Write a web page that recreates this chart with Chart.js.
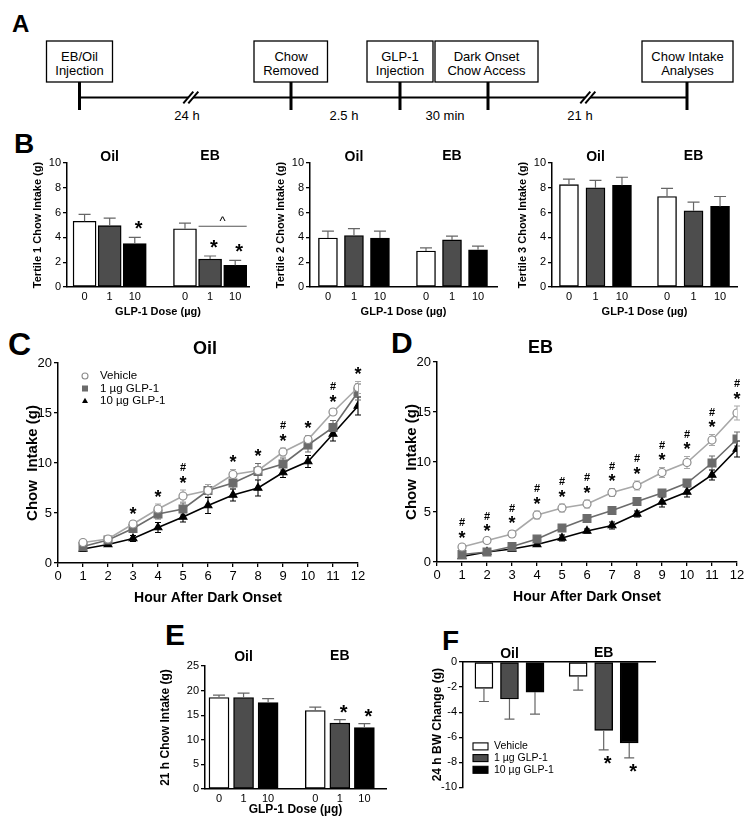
<!DOCTYPE html>
<html lang="en">
<head>
<meta charset="UTF-8" />
<title>GLP-1 and chow intake</title>
<script src="https://cdn.jsdelivr.net/npm/chart.js"></script>
<style>
  body { margin: 0; background: #fff; }
  #page { position: relative; width: 754px; height: 830px; overflow: hidden; }
  #page svg, #page canvas { position: absolute; }
</style>
</head>
<body>
<div id="page">
  <svg width="754" height="830" style="left:0;top:0" font-family="Liberation Sans, Arial, sans-serif">
    <g font-weight="bold" fill="#000">
      <text x="12" y="32" font-size="24">A</text>
      <text x="14" y="153" font-size="28">B</text>
      <text x="8" y="355" font-size="32">C</text>
      <text x="391" y="353" font-size="30">D</text>
      <text x="165" y="645" font-size="30">E</text>
      <text x="442" y="650" font-size="28">F</text>
    </g>
    <!-- timeline -->
    <line x1="79.5" y1="97.5" x2="687" y2="97.5" stroke="#000" stroke-width="2" />
    <g stroke="#000" stroke-width="3">
      <line x1="79.5" y1="82" x2="79.5" y2="110" />
      <line x1="291" y1="82" x2="291" y2="110" />
      <line x1="400" y1="82" x2="400" y2="110" />
      <line x1="488" y1="82" x2="488" y2="110" />
      <line x1="687" y1="82" x2="687" y2="110" />
    </g>
    <g stroke="#000" stroke-width="1.3" fill="#fff">
      <rect x="46.5" y="41" width="66" height="41" />
      <rect x="254" y="41" width="73.5" height="41" />
      <rect x="367" y="41" width="66" height="41" />
      <rect x="435" y="41" width="103" height="41" />
      <rect x="642" y="41" width="91" height="41" />
    </g>
    <polygon points="183.3,103.3 193.3,91.7 198.3,91.7 188.3,103.3" fill="#fff" />
    <polygon points="580.3,103.3 590.3,91.7 595.3,91.7 585.3,103.3" fill="#fff" />
    <g stroke="#000" stroke-width="2">
      <line x1="183.3" y1="103.3" x2="193.3" y2="91.7" />
      <line x1="188.3" y1="103.3" x2="198.3" y2="91.7" />
      <line x1="580.3" y1="103.3" x2="590.3" y2="91.7" />
      <line x1="585.3" y1="103.3" x2="595.3" y2="91.7" />
    </g>
    <g font-size="13" text-anchor="middle" fill="#000">
      <text x="79.5" y="61">EB/Oil</text><text x="79.5" y="75">Injection</text>
      <text x="291" y="61">Chow</text><text x="291" y="75">Removed</text>
      <text x="400" y="61">GLP-1</text><text x="400" y="75">Injection</text>
      <text x="486.5" y="61">Dark Onset</text><text x="486.5" y="75">Chow Access</text>
      <text x="687.5" y="61">Chow Intake</text><text x="687.5" y="75">Analyses</text>
      <text x="187" y="120">24 h</text>
      <text x="344" y="120">2.5 h</text>
      <text x="445" y="120">30 min</text>
      <text x="580" y="120">21 h</text>
    </g>
  </svg>

  <canvas id="tertile1" width="226" height="185" style="left:27px;top:138px"></canvas>
  <canvas id="tertile2" width="231" height="185" style="left:270px;top:138px"></canvas>
  <canvas id="tertile3" width="229" height="185" style="left:512px;top:138px"></canvas>
  <canvas id="oilHourly" width="348" height="278" style="left:20px;top:333px"></canvas>
  <canvas id="ebHourly" width="348" height="278" style="left:399px;top:332px"></canvas>
  <canvas id="intake21" width="236" height="177" style="left:154px;top:644px"></canvas>
  <canvas id="bwChange" width="233" height="158" style="left:426px;top:638px"></canvas>
</div>

<script>
  // ---- data ----
  var doseLabels = ["0", "1", "10"];
  var groupNames = ["Oil", "EB"];
  var seriesNames = ["Vehicle", "1 µg GLP-1", "10 µg GLP-1"];

  // bars: Oil 0, 1, 10 then EB 0, 1, 10
  var tertile1Mean = [5.3, 4.95, 3.5, 4.7, 2.25, 1.75];
  var tertile1Sem = [0.55, 0.6, 0.5, 0.45, 0.25, 0.4];
  var tertile1Sig = ["", "", "*", "", "*", "*"];
  var tertile1Bracket = { from: 4, to: 5, value: 4.9, text: "^" };

  var tertile2Mean = [3.95, 4.15, 3.95, 2.9, 3.8, 3.0];
  var tertile2Sem = [0.55, 0.55, 0.55, 0.25, 0.3, 0.3];

  var tertile3Mean = [8.25, 8.0, 8.2, 7.3, 6.15, 6.5];
  var tertile3Sem = [0.45, 0.6, 0.65, 0.65, 0.7, 0.8];

  var intake21Mean = [18.6, 18.6, 17.55, 15.95, 13.4, 12.5];
  var intake21Sem = [0.5, 0.9, 0.8, 0.7, 0.7, 0.8];
  var intake21Sig = ["", "", "", "", "*", "*"];

  var bwMean = [-2.1, -2.95, -2.4, -1.15, -5.45, -6.45];
  var bwSem = [1.05, 1.6, 1.75, 1.1, 1.55, 1.2];
  var bwSig = ["", "", "", "", "*", "*"];

  // hourly cumulative intake
  var hours = [1, 2, 3, 4, 5, 6, 7, 8, 9, 10, 11, 12];

  var oilVehicle = [2.05, 2.4, 3.9, 5.4, 6.7, 7.25, 8.85, 9.25, 11.1, 12.35, 15.1, 17.55];
  var oilLow = [1.65, 2.3, 3.45, 4.9, 5.4, 7.25, 8.0, 9.15, 9.9, 11.8, 13.55, 17.1];
  var oilHigh = [1.4, 1.85, 2.45, 3.55, 4.6, 5.75, 6.8, 7.5, 9.05, 10.15, 12.9, 15.7];
  var oilVehicleSem = [0.2, 0.2, 0.3, 0.5, 0.6, 0.6, 0.5, 0.4, 0.4, 0.4, 0.3, 0.6];
  var oilLowSem = [0.2, 0.2, 0.3, 0.5, 0.6, 0.6, 0.6, 0.8, 0.6, 0.7, 0.7, 0.8];
  var oilHighSem = [0.2, 0.2, 0.3, 0.5, 0.5, 0.8, 0.6, 0.8, 0.5, 0.6, 0.7, 0.9];
  var oilSig = ["", "", "*", "*", "#*", "", "*", "*", "#*", "*", "#*", "*"];

  var ebVehicle = [1.5, 2.15, 2.8, 4.7, 5.4, 5.8, 6.95, 7.65, 8.95, 9.95, 12.2, 14.9];
  var ebLow = [0.75, 1.0, 1.55, 2.3, 3.4, 4.35, 5.15, 6.05, 6.9, 7.9, 9.9, 12.3];
  var ebHigh = [0.55, 1.0, 1.3, 1.75, 2.4, 3.1, 3.65, 4.8, 6.0, 7.0, 8.7, 11.3];
  var ebVehicleSem = [0.2, 0.2, 0.35, 0.4, 0.4, 0.4, 0.4, 0.45, 0.5, 0.6, 0.55, 0.7];
  var ebLowSem = [0.15, 0.15, 0.2, 0.2, 0.3, 0.3, 0.3, 0.3, 0.3, 0.3, 0.7, 0.7];
  var ebHighSem = [0.1, 0.1, 0.15, 0.2, 0.3, 0.2, 0.35, 0.3, 0.5, 0.5, 0.5, 0.8];
  var ebSig = ["#*", "#*", "#*", "#*", "#*", "#*", "#*", "#*", "#*", "#*", "#*", "#*"];

  // ---- styles ----
  var FONT = '"Liberation Sans", Arial, sans-serif';
  var doseColors = ["#ffffff", "#4d4d4d", "#000000"];
  var lineColors = ["#a8a8a8", "#6b6b6b", "#000000"];
  var pointStyles = ["circle", "rect", "triangle"];
  var pointRadii = [4, 5.5, 4.5];
  var pointFills = ["#ffffff", "#6b6b6b", "#000000"];
  var pointEdges = ["#8c8c8c", "#6b6b6b", "#000000"];

  Chart.defaults.font.family = FONT;
  Chart.defaults.color = "#000";
  Chart.defaults.animation = false;
  Chart.defaults.responsive = false;
  Chart.defaults.plugins.legend.display = false;
  Chart.defaults.plugins.tooltip.enabled = false;

  var tickGrid = { drawOnChartArea: false, color: "#000", lineWidth: 1.3, tickLength: 4 };
  var axisBorder = { color: "#000", width: 1.5 };

  function drawCentered(ctx, text, x, y) {
    var m = ctx.measureText(text);
    ctx.fillText(text, x, y + (m.actualBoundingBoxAscent - m.actualBoundingBoxDescent) / 2);
  }

  function drawMarker(ctx, k, x, y, r) {
    ctx.beginPath();
    if (k == 0) {
      ctx.arc(x, y, r, 0, Math.PI * 2);
      ctx.fillStyle = "#fff";
      ctx.fill();
      ctx.strokeStyle = pointEdges[0];
      ctx.lineWidth = 1.1;
      ctx.stroke();
    } else if (k == 1) {
      ctx.fillStyle = pointFills[1];
      ctx.fillRect(x - r, y - r, 2 * r, 2 * r);
    } else {
      ctx.moveTo(x, y - r * 1.1);
      ctx.lineTo(x + r, y + r * 0.7);
      ctx.lineTo(x - r, y + r * 0.7);
      ctx.closePath();
      ctx.fillStyle = "#000";
      ctx.fill();
    }
  }

  function barDecor(mean, sem, sig, o) {
    return {
      id: "barDecor",
      afterDatasetsDraw: function (chart) {
        var ctx = chart.ctx;
        var y = chart.scales.y;
        var area = chart.chartArea;
        var bars = chart.getDatasetMeta(0).data;
        ctx.save();
        ctx.fillStyle = "#000";

        for (var i = 0; i < bars.length; i++) {
          var dir = mean[i] < 0 ? -1 : 1;
          var end = y.getPixelForValue(mean[i] + dir * sem[i]);
          ctx.strokeStyle = "#666";
          ctx.lineWidth = 1.2;
          ctx.beginPath();
          ctx.moveTo(bars[i].x, bars[i].y);
          ctx.lineTo(bars[i].x, end);
          ctx.moveTo(bars[i].x - o.cap, end);
          ctx.lineTo(bars[i].x + o.cap, end);
          ctx.stroke();
          if (sig && sig[i]) {
            ctx.font = "bold 20px " + FONT;
            drawCentered(ctx, sig[i], bars[i].x, end - dir * o.starGap);
          }
        }

        // Oil / EB headings over the middle bar of each group
        ctx.font = "bold " + o.titleSize + "px " + FONT;
        ctx.textAlign = "center";
        for (var g = 0; g < groupNames.length; g++) {
          drawCentered(ctx, groupNames[g], bars[g * 3 + 1].x, area.top - o.titleGap);
        }

        if (o.bracket) {
          var b = o.bracket;
          var by = y.getPixelForValue(b.value);
          ctx.strokeStyle = "#555";
          ctx.lineWidth = 1.1;
          ctx.beginPath();
          ctx.moveTo(bars[b.from].x - o.barW / 2, by);
          ctx.lineTo(bars[b.to].x + o.barW / 2, by);
          ctx.stroke();
          ctx.font = "13px " + FONT;
          drawCentered(ctx, b.text, (bars[b.from].x + bars[b.to].x) / 2, by - 8);
        }

        if (o.legend) {
          ctx.font = "10.5px " + FONT;
          ctx.textAlign = "left";
          ctx.textBaseline = "middle";
          for (var k = 0; k < seriesNames.length; k++) {
            var ly = area.bottom - 41 + k * 11.7;
            ctx.fillStyle = doseColors[k];
            ctx.fillRect(area.left + 10, ly - 3.5, 15, 7);
            ctx.strokeStyle = "#000";
            ctx.lineWidth = 1.1;
            ctx.strokeRect(area.left + 10, ly - 3.5, 15, 7);
            ctx.fillStyle = "#000";
            ctx.fillText(seriesNames[k], area.left + 31, ly);
          }
        }
        ctx.restore();
      }
    };
  }

  function barPanel(id, mean, sem, sig, o) {
    var xs = mean.map(function (v, i) { return i + (i > 2 ? o.gap : 0); });
    new Chart(document.getElementById(id), {
      type: "bar",
      data: {
        datasets: [{
          data: mean.map(function (v, i) { return { x: xs[i], y: v }; }),
          backgroundColor: mean.map(function (v, i) { return doseColors[i % 3]; }),
          borderColor: "#000",
          borderWidth: 1.4,
          borderSkipped: false,
          barThickness: o.barW
        }]
      },
      options: {
        layout: { padding: o.pad },
        scales: {
          x: {
            type: "linear",
            position: o.xTop ? "top" : "bottom",
            offset: false,
            min: o.xMin,
            max: o.xMax,
            afterBuildTicks: function (s) { s.ticks = xs.map(function (v) { return { value: v }; }); },
            ticks: {
              display: !o.xTop, autoSkip: false, maxRotation: 0, padding: 3,
              font: { size: o.tickSize },
              callback: function (v, i) { return doseLabels[i % 3]; }
            },
            grid: { display: false, drawTicks: false },
            border: axisBorder,
            title: { display: !!o.xTitle, text: o.xTitle, font: { size: o.axisTitleSize, weight: "bold" } },
            afterFit: function (s) { s.height = o.xH; }
          },
          y: {
            min: o.yMin,
            max: o.yMax,
            ticks: { stepSize: o.yStep, padding: 2, font: { size: o.tickSize } },
            grid: tickGrid,
            border: axisBorder,
            title: { display: true, text: o.yTitle, font: { size: o.axisTitleSize, weight: "bold" } },
            afterFit: function (s) { s.width = o.yW; }
          }
        }
      },
      plugins: [barDecor(mean, sem, sig, o)]
    });
  }

  function lineDecor(means, sems, sig, o) {
    return {
      id: "lineDecor",
      beforeDatasetsDraw: function (chart) {
        var ctx = chart.ctx;
        var y = chart.scales.y;
        ctx.save();
        ctx.lineWidth = 1.1;
        for (var k = means.length - 1; k >= 0; k--) {
          var pts = chart.getDatasetMeta(k).data;
          ctx.strokeStyle = lineColors[k];
          for (var i = 0; i < pts.length; i++) {
            var hi = y.getPixelForValue(means[k][i] + sems[k][i]);
            var lo = y.getPixelForValue(means[k][i] - sems[k][i]);
            ctx.beginPath();
            ctx.moveTo(pts[i].x, lo);
            ctx.lineTo(pts[i].x, hi);
            ctx.moveTo(pts[i].x - 3, hi);
            ctx.lineTo(pts[i].x + 3, hi);
            ctx.moveTo(pts[i].x - 3, lo);
            ctx.lineTo(pts[i].x + 3, lo);
            ctx.stroke();
          }
        }
        ctx.restore();
      },
      afterDatasetsDraw: function (chart) {
        var ctx = chart.ctx;
        var y = chart.scales.y;
        var area = chart.chartArea;
        var pts = chart.getDatasetMeta(0).data;
        ctx.save();
        ctx.fillStyle = "#000";
        ctx.textAlign = "center";

        for (var i = 0; i < pts.length; i++) {
          if (!sig[i]) continue;
          var top = Infinity;
          for (var k = 0; k < means.length; k++) {
            top = Math.min(top, y.getPixelForValue(means[k][i] + sems[k][i]));
          }
          var starY = top - 11;
          if (sig[i].indexOf("*") >= 0) {
            ctx.font = "bold 18px " + FONT;
            drawCentered(ctx, "*", pts[i].x, starY);
          }
          if (sig[i].indexOf("#") >= 0) {
            ctx.font = "bold 11px " + FONT;
            drawCentered(ctx, "#", pts[i].x, starY - 12);
          }
        }

        ctx.font = "bold 18px " + FONT;
        drawCentered(ctx, o.title, area.left + o.titlePos * (area.right - area.left), area.top - 16);

        if (o.legend) {
          ctx.font = "11.5px " + FONT;
          ctx.textAlign = "left";
          ctx.textBaseline = "middle";
          for (var s = 0; s < seriesNames.length; s++) {
            var ly = area.top + 13 + s * 12.5;
            drawMarker(ctx, s, area.left + 27, ly, 3);
            ctx.fillStyle = "#000";
            ctx.fillText(seriesNames[s], area.left + 42, ly);
          }
        }
        ctx.restore();
      }
    };
  }

  function linePanel(id, means, sems, sig, o) {
    new Chart(document.getElementById(id), {
      type: "line",
      data: {
        datasets: means.map(function (m, k) {
          return {
            label: seriesNames[k],
            data: hours.map(function (h, i) { return { x: h, y: m[i] }; }),
            borderColor: lineColors[k],
            borderWidth: 1.6,
            pointStyle: pointStyles[k],
            pointRadius: pointRadii[k],
            pointBackgroundColor: pointFills[k],
            pointBorderColor: pointEdges[k],
            pointBorderWidth: 1.2
          };
        })
      },
      options: {
        layout: { padding: { top: 30, right: 10, left: 0, bottom: 0 } },
        scales: {
          x: {
            type: "linear",
            min: 0,
            max: 12,
            ticks: { stepSize: 1, autoSkip: false, maxRotation: 0, padding: 2, font: { size: 13 } },
            grid: tickGrid,
            border: axisBorder,
            title: { display: true, text: "Hour After Dark Onset", font: { size: 14, weight: "bold" } },
            afterFit: function (s) { s.height = 48; }
          },
          y: {
            min: 0,
            max: 20,
            ticks: { stepSize: 5, padding: 2, font: { size: 13 } },
            grid: tickGrid,
            border: axisBorder,
            title: { display: true, text: "Chow  Intake (g)", font: { size: 15, weight: "bold" } },
            afterFit: function (s) { s.width = 38; }
          }
        }
      },
      plugins: [lineDecor(means, sems, sig, o)]
    });
  }

  // ---- panel B ----
  var tertileOpts = {
    yMin: 0, yMax: 10, yStep: 2, tickSize: 11, axisTitleSize: 11,
    xTitle: "GLP-1 Dose (µg)", yW: 40, xH: 36,
    pad: { top: 25, right: 4, left: 0, bottom: 0 },
    titleSize: 14, titleGap: 8, cap: 6, starGap: 12
  };

  barPanel("tertile1", tertile1Mean, tertile1Sem, tertile1Sig, Object.assign({}, tertileOpts, {
    yTitle: "Tertile 1 Chow Intake (g)", gap: 1.0, xMin: -0.7, xMax: 6.55, barW: 23,
    bracket: tertile1Bracket
  }));
  barPanel("tertile2", tertile2Mean, tertile2Sem, null, Object.assign({}, tertileOpts, {
    yTitle: "Tertile 2 Chow Intake (g)", gap: 0.77, xMin: -0.69, xMax: 6.5, barW: 19
  }));
  barPanel("tertile3", tertile3Mean, tertile3Sem, null, Object.assign({}, tertileOpts, {
    yTitle: "Tertile 3 Chow Intake (g)", gap: 0.7, xMin: -0.64, xMax: 6.34, barW: 19
  }));

  // ---- panels C and D ----
  linePanel("oilHourly", [oilVehicle, oilLow, oilHigh], [oilVehicleSem, oilLowSem, oilHighSem], oilSig,
    { title: "Oil", titlePos: 0.49, legend: true });
  linePanel("ebHourly", [ebVehicle, ebLow, ebHigh], [ebVehicleSem, ebLowSem, ebHighSem], ebSig,
    { title: "EB", titlePos: 0.345, legend: false });

  // ---- panel E ----
  barPanel("intake21", intake21Mean, intake21Sem, intake21Sig, {
    yMin: 0, yMax: 25, yStep: 5, tickSize: 11, axisTitleSize: 12,
    yTitle: "21 h Chow Intake (g)", xTitle: "GLP-1 Dose (µg)", yW: 51, xH: 32,
    pad: { top: 22, right: 4, left: 0, bottom: 0 },
    gap: 0.92, xMin: -0.57, xMax: 6.8, barW: 20,
    titleSize: 14, titleGap: 11, cap: 6, starGap: 11
  });

  // ---- panel F ----
  barPanel("bwChange", bwMean, bwSem, bwSig, {
    yMin: -10, yMax: 0, yStep: 2, tickSize: 11, axisTitleSize: 12,
    yTitle: "24 h BW Change (g)", xTitle: "", yW: 37, xH: 0, xTop: true,
    pad: { top: 24, right: 4, left: 0, bottom: 8 },
    gap: 0.69, xMin: -0.82, xMax: 6.7, barW: 18,
    titleSize: 14, titleGap: 10, cap: 5, starGap: 10, legend: true
  });
</script>
</body>
</html>
